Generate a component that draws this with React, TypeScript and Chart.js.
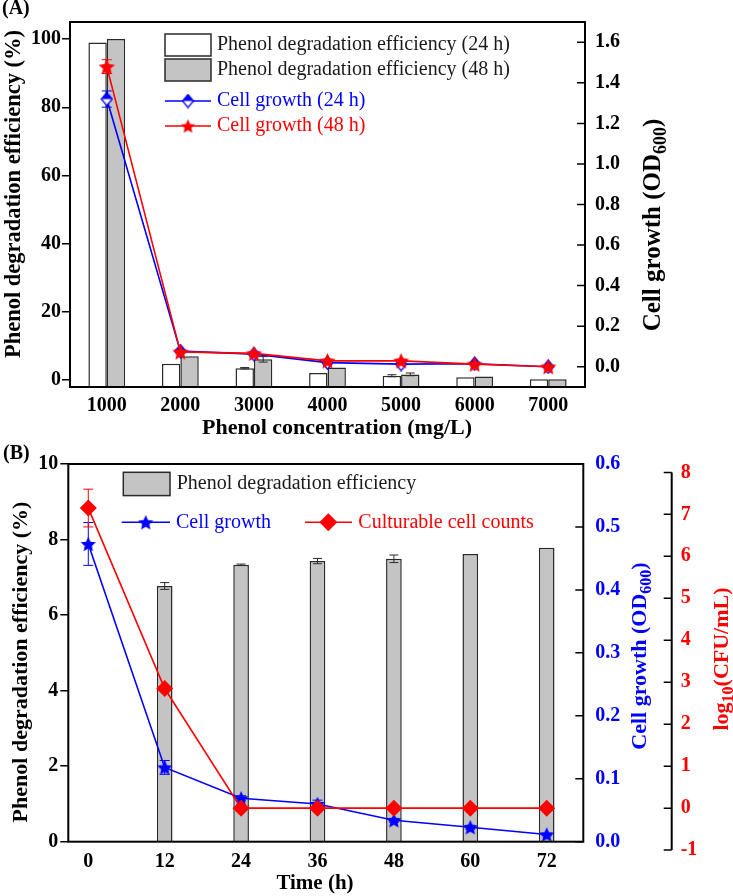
import React, { useEffect, useRef } from 'react';
import { Chart, registerables } from 'chart.js';

Chart.register(...registerables);

const FONT = "'Liberation Serif', 'Times New Roman', serif";
const BLUE = '#0000FF';
const RED = '#FF0000';
const GRAY = '#C4C4C4';
const EDGE = '#2a2a2a';

// ---------- Panel (A) data ----------
const concentrations = ['1000', '2000', '3000', '4000', '5000', '6000', '7000'];
const degradation24 = [99.0, 4.8, 3.5, 2.1, 1.3, 0.85, 0.3];
const degradation24Err = [0, 0, 0.2, 0, 0.3, 0, 0];
const degradation48 = [100.0, 7.0, 6.1, 3.7, 1.7, 1.05, 0.3];
const degradation48Err = [0, 0, 0.8, 0, 0.4, 0, 0];
const growth24 = [1.32, 0.077, 0.062, 0.02, 0.013, 0.015, 0.0];
const growth24Err = [0.04, 0.008, 0.008, 0.005, 0.005, 0.004, 0.004];
const growth48 = [1.48, 0.073, 0.066, 0.029, 0.029, 0.013, 0.0];
const growth48Err = [0.034, 0.006, 0.006, 0.004, 0.004, 0.004, 0.004];
const degradationTicksA = [0, 20, 40, 60, 80, 100];
const growthTicksA = [0, 0.2, 0.4, 0.6, 0.8, 1.0, 1.2, 1.4, 1.6];
const degradationRangeA = [-2, 105];
const growthRangeA = [-0.1, 1.7];

// ---------- Panel (B) data ----------
const timesB = [0, 12, 24, 36, 48, 60, 72];
const degradationB = [null, 6.77, 7.33, 7.43, 7.49, 7.62, 7.78];
const degradationBErr = [0, 0.09, 0.02, 0.07, 0.1, 0, 0];
const growthB = [0.473, 0.118, 0.069, 0.06, 0.034, 0.023, 0.0115];
const growthBErr = [0.034, 0.011, 0.004, 0.006, 0.003, 0.003, 0.002];
const countsB = [7.15, 2.85, 0, 0, 0, 0, 0];
const countsBErr = [0.45, 0, 0, 0, 0, 0, 0];
const timeTicksB = [0, 12, 24, 36, 48, 60, 72];
const degradationTicksB = [0, 2, 4, 6, 8, 10];
const growthTicksB = [0, 0.1, 0.2, 0.3, 0.4, 0.5, 0.6];
const countsTicksB = [-1, 0, 1, 2, 3, 4, 5, 6, 7, 8];
const timeRangeB = [-3.14, 77.75];
const degradationRangeB = [0, 10];
const growthRangeB = [0, 0.6];
const countsRangeB = [-0.8, 8.2];

const tickFont = { family: FONT, size: 20, weight: 'bold' as const };

function makeStar(color: string, R: number) {
  const size = Math.ceil(R * 2 + 2);
  const c = document.createElement('canvas');
  c.width = size;
  c.height = size;
  const ctx = c.getContext('2d')!;
  const cx = size / 2;
  const cy = size / 2 + R * 0.1;
  const r = R * 0.47;
  ctx.beginPath();
  for (let k = 0; k < 10; k++) {
    const ang = -Math.PI / 2 + (k * Math.PI) / 5;
    const rad = k % 2 === 0 ? R : r;
    ctx.lineTo(cx + rad * Math.cos(ang), cy + rad * Math.sin(ang));
  }
  ctx.closePath();
  ctx.fillStyle = color;
  ctx.fill();
  return c;
}

function makeHalfDiamond(color: string, w: number, h: number) {
  const c = document.createElement('canvas');
  c.width = w;
  c.height = h;
  const ctx = c.getContext('2d')!;
  const path = () => {
    ctx.beginPath();
    ctx.moveTo(w / 2, 1);
    ctx.lineTo(w - 1, h / 2);
    ctx.lineTo(w / 2, h - 1);
    ctx.lineTo(1, h / 2);
    ctx.closePath();
  };
  path();
  ctx.fillStyle = '#fff';
  ctx.fill();
  ctx.save();
  ctx.beginPath();
  ctx.rect(0, 0, w, h / 2);
  ctx.clip();
  path();
  ctx.fillStyle = color;
  ctx.fill();
  ctx.restore();
  path();
  ctx.strokeStyle = color;
  ctx.lineWidth = 1.3;
  ctx.stroke();
  return c;
}

type Seg = { t: string; sub?: boolean };

function drawRich(
  ctx: CanvasRenderingContext2D,
  segs: Seg[],
  x: number,
  y: number,
  size: number,
  color: string,
  rotate: number,
  bold = true,
  align: 'center' | 'left' = 'center'
) {
  ctx.save();
  ctx.translate(x, y);
  if (rotate) ctx.rotate(rotate);
  const w = bold ? 'bold ' : '';
  const mainF = `${w}${size}px ${FONT}`;
  const subF = `${w}${Math.round(size * 0.72)}px ${FONT}`;
  const widths = segs.map((s) => {
    ctx.font = s.sub ? subF : mainF;
    return ctx.measureText(s.t).width;
  });
  const total = widths.reduce((a, b) => a + b, 0);
  let cx = align === 'center' ? -total / 2 : 0;
  ctx.textBaseline = 'middle';
  ctx.textAlign = 'left';
  ctx.fillStyle = color;
  segs.forEach((s, i) => {
    ctx.font = s.sub ? subF : mainF;
    ctx.fillText(s.t, cx, s.sub ? size * 0.3 : 0);
    cx += widths[i];
  });
  ctx.restore();
}

function drawErrors(chart: any, args: any, kind: string) {
  const meta = args.meta;
  const ds: any = chart.data.datasets[args.index];
  if (!ds.errors || meta.type !== kind) return;
  const yScale = chart.scales[meta.yAxisID];
  const ctx = chart.ctx as CanvasRenderingContext2D;
  ctx.save();
  ctx.strokeStyle = ds.errorColor;
  ctx.lineWidth = 1;
  meta.data.forEach((el: any, i: number) => {
    const e = ds.errors[i];
    const parsed = meta.controller.getParsed(i);
    if (!e || !parsed || parsed.y == null || isNaN(parsed.y)) return;
    const x = el.x;
    const y1 = yScale.getPixelForValue(parsed.y + e);
    const y2 = yScale.getPixelForValue(parsed.y - e);
    const cap = ds.errorCap / 2;
    ctx.beginPath();
    ctx.moveTo(x, y1);
    ctx.lineTo(x, y2);
    ctx.moveTo(x - cap, y1);
    ctx.lineTo(x + cap, y1);
    ctx.moveTo(x - cap, y2);
    ctx.lineTo(x + cap, y2);
    ctx.stroke();
  });
  ctx.restore();
}

const errorBarPlugin = {
  id: 'errorBars',
  beforeDatasetDraw(chart: any, args: any) {
    drawErrors(chart, args, 'line');
  },
  afterDatasetDraw(chart: any, args: any) {
    drawErrors(chart, args, 'bar');
  },
};

function inwardTicks(ctx: CanvasRenderingContext2D, scale: any, x: number, len: number) {
  ctx.beginPath();
  scale.ticks.forEach((t: any) => {
    const y = scale.getPixelForValue(t.value);
    ctx.moveTo(x - len, y);
    ctx.lineTo(x, y);
  });
  ctx.stroke();
}

function setTicks(values: number[]) {
  return (scale: any) => {
    scale.ticks = values.map((v) => ({ value: v }));
  };
}

export default function App() {
  const refA = useRef<HTMLCanvasElement>(null);
  const refB = useRef<HTMLCanvasElement>(null);

  useEffect(() => {
    const starA = makeStar(RED, 8.5);
    const starALegend = makeStar(RED, 7.5);
    const diamondA = makeHalfDiamond(BLUE, 13, 15);
    const starB = makeStar(BLUE, 8);

    const decorA = {
      id: 'decorA',
      afterDraw(chart: any) {
        const ctx = chart.ctx as CanvasRenderingContext2D;
        const { left: L, top: T, right: R, bottom: B } = chart.chartArea;
        ctx.save();
        // frame
        ctx.strokeStyle = '#000';
        ctx.lineWidth = 2;
        ctx.strokeRect(L, T, R - L, B - T);
        // inward ticks of right axis
        ctx.lineWidth = 1.5;
        inwardTicks(ctx, chart.scales.y2, R, 8);
        // legend
        ctx.lineWidth = 1.5;
        ctx.strokeStyle = EDGE;
        ctx.fillStyle = '#fff';
        ctx.fillRect(L + 95, T + 12, 46, 22);
        ctx.strokeRect(L + 95, T + 12, 46, 22);
        ctx.fillStyle = GRAY;
        ctx.fillRect(L + 95, T + 37, 46, 22);
        ctx.strokeRect(L + 95, T + 37, 46, 22);
        drawRich(ctx, [{ t: 'Phenol degradation efficiency (24 h)' }], L + 147, T + 23, 20, '#1a1a1a', 0, false, 'left');
        drawRich(ctx, [{ t: 'Phenol degradation efficiency (48 h)' }], L + 147, T + 48, 20, '#1a1a1a', 0, false, 'left');
        ctx.strokeStyle = BLUE;
        ctx.beginPath();
        ctx.moveTo(L + 95, T + 79);
        ctx.lineTo(L + 141, T + 79);
        ctx.stroke();
        ctx.drawImage(diamondA, L + 118 - diamondA.width / 2, T + 79 - diamondA.height / 2);
        drawRich(ctx, [{ t: 'Cell growth (24 h)' }], L + 147, T + 79, 20, BLUE, 0, false, 'left');
        ctx.strokeStyle = RED;
        ctx.beginPath();
        ctx.moveTo(L + 95, T + 104);
        ctx.lineTo(L + 141, T + 104);
        ctx.stroke();
        ctx.drawImage(starALegend, L + 118 - starALegend.width / 2, T + 104 - starALegend.height / 2);
        drawRich(ctx, [{ t: 'Cell growth (48 h)' }], L + 147, T + 104, 20, RED, 0, false, 'left');
        // titles
        drawRich(ctx, [{ t: '(A)' }], 2, 9, 20, '#000', 0, true, 'left');
        drawRich(ctx, [{ t: 'Phenol degradation efficiency (%)' }], 14, 194, 22.5, '#000', -Math.PI / 2);
        drawRich(ctx, [{ t: 'Cell growth (OD' }, { t: '600', sub: true }, { t: ')' }], 654, 225, 25, '#000', -Math.PI / 2);
        drawRich(ctx, [{ t: 'Phenol concentration (mg/L)' }], 337, 428, 22, '#000', 0);
        ctx.restore();
      },
    };

    const decorB = {
      id: 'decorB',
      afterDraw(chart: any) {
        const ctx = chart.ctx as CanvasRenderingContext2D;
        const { left: L, top: T, right: R, bottom: B } = chart.chartArea;
        ctx.save();
        ctx.strokeStyle = '#000';
        ctx.lineWidth = 2;
        ctx.strokeRect(L, T, R - L, B - T);
        ctx.lineWidth = 1.5;
        inwardTicks(ctx, chart.scales.yBlue, R, 8);
        // red axis line + ticks
        const red = chart.scales.yRed;
        const rx = red.left;
        ctx.lineWidth = 2;
        ctx.beginPath();
        ctx.moveTo(rx, red.getPixelForValue(countsTicksB[0]));
        ctx.lineTo(rx, red.getPixelForValue(countsTicksB[countsTicksB.length - 1]));
        ctx.stroke();
        ctx.lineWidth = 1.5;
        inwardTicks(ctx, red, rx, 8);
        // legend
        ctx.strokeStyle = EDGE;
        ctx.fillStyle = GRAY;
        ctx.fillRect(L + 55, T + 8.3, 46.7, 23.3);
        ctx.strokeRect(L + 55, T + 8.3, 46.7, 23.3);
        drawRich(ctx, [{ t: 'Phenol degradation efficiency' }], L + 108.4, T + 20, 20, '#1a1a1a', 0, false, 'left');
        ctx.strokeStyle = BLUE;
        ctx.beginPath();
        ctx.moveTo(L + 53.4, T + 58.3);
        ctx.lineTo(L + 101.7, T + 58.3);
        ctx.stroke();
        ctx.drawImage(starB, L + 77.4 - starB.width / 2, T + 58.3 - starB.height / 2);
        drawRich(ctx, [{ t: 'Cell growth' }], L + 107.7, T + 58.3, 20, BLUE, 0, false, 'left');
        ctx.strokeStyle = RED;
        ctx.beginPath();
        ctx.moveTo(L + 236.7, T + 58.3);
        ctx.lineTo(L + 283.7, T + 58.3);
        ctx.stroke();
        ctx.fillStyle = RED;
        ctx.beginPath();
        const dx = L + 260, dy = T + 58.3;
        ctx.moveTo(dx - 9, dy);
        ctx.lineTo(dx, dy - 9);
        ctx.lineTo(dx + 9, dy);
        ctx.lineTo(dx, dy + 9);
        ctx.closePath();
        ctx.fill();
        drawRich(ctx, [{ t: 'Culturable cell counts' }], L + 290, T + 58.3, 20, RED, 0, false, 'left');
        // titles
        drawRich(ctx, [{ t: '(B)' }], 3, 13.5, 20, '#000', 0, true, 'left');
        drawRich(ctx, [{ t: 'Phenol degradation efficiency (%)' }], 21, 222, 22, '#000', -Math.PI / 2);
        drawRich(ctx, [{ t: 'Cell growth (OD' }, { t: '600', sub: true }, { t: ')' }], 640, 216, 22, BLUE, -Math.PI / 2);
        drawRich(ctx, [{ t: 'log' }, { t: '10', sub: true }, { t: '(CFU/mL)' }], 722, 219, 22, RED, -Math.PI / 2);
        drawRich(ctx, [{ t: 'Time (h)' }], 315, 444, 21, '#000', 0);
        ctx.restore();
      },
    };

    const chartA = new Chart(refA.current!, {
      type: 'bar',
      data: {
        labels: concentrations,
        datasets: [
          {
            type: 'line',
            label: 'Cell growth (48 h)',
            data: growth48,
            yAxisID: 'y2',
            borderColor: RED,
            backgroundColor: RED,
            borderWidth: 1.6,
            pointStyle: starA as any,
            pointRadius: 8,
            tension: 0,
            order: 0,
            errors: growth48Err,
            errorColor: RED,
            errorCap: 10,
          } as any,
          {
            type: 'line',
            label: 'Cell growth (24 h)',
            data: growth24,
            yAxisID: 'y2',
            borderColor: BLUE,
            backgroundColor: BLUE,
            borderWidth: 1.6,
            pointStyle: diamondA as any,
            pointRadius: 7,
            tension: 0,
            order: 1,
            errors: growth24Err,
            errorColor: BLUE,
            errorCap: 10,
          } as any,
          {
            type: 'bar',
            label: 'Phenol degradation efficiency (24 h)',
            data: degradation24,
            yAxisID: 'y',
            backgroundColor: '#FFFFFF',
            borderColor: EDGE,
            borderWidth: 1.5,
            base: degradationRangeA[0],
            categoryPercentage: 0.5,
            barPercentage: 1.0,
            order: 2,
            errors: degradation24Err,
            errorColor: EDGE,
            errorCap: 9,
          } as any,
          {
            type: 'bar',
            label: 'Phenol degradation efficiency (48 h)',
            data: degradation48,
            yAxisID: 'y',
            backgroundColor: GRAY,
            borderColor: EDGE,
            borderWidth: 1.5,
            base: degradationRangeA[0],
            categoryPercentage: 0.5,
            barPercentage: 1.0,
            order: 2,
            errors: degradation48Err,
            errorColor: EDGE,
            errorCap: 9,
          } as any,
        ],
      },
      options: {
        responsive: false,
        animation: false,
        devicePixelRatio: 1,
        events: [],
        layout: { padding: { left: 0, right: 0, top: 12, bottom: 0 } },
        plugins: { legend: { display: false }, tooltip: { enabled: false } },
        scales: {
          x: {
            type: 'category',
            offset: true,
            grid: { display: false, drawTicks: false },
            border: { display: false },
            ticks: { font: tickFont, color: '#000', padding: 7, maxRotation: 0, autoSkip: false },
            afterFit: (s: any) => {
              s.height = 53;
            },
          },
          y: {
            position: 'left',
            min: degradationRangeA[0],
            max: degradationRangeA[1],
            afterBuildTicks: setTicks(degradationTicksA),
            grid: { display: true, drawOnChartArea: false, drawTicks: true, tickLength: 8, color: '#000', lineWidth: 1.5 },
            border: { display: false },
            ticks: { font: tickFont, color: '#000', padding: 1 },
            afterFit: (s: any) => {
              s.width = 70;
            },
          },
          y2: {
            position: 'right',
            min: growthRangeA[0],
            max: growthRangeA[1],
            afterBuildTicks: setTicks(growthTicksA),
            grid: { display: false, drawTicks: false },
            border: { display: false },
            ticks: { font: tickFont, color: '#000', padding: 10, callback: (v: any) => Number(v).toFixed(1) },
            afterFit: (s: any) => {
              s.width = 148;
            },
          },
        },
      } as any,
      plugins: [errorBarPlugin, decorA],
    });

    const chartB = new Chart(refB.current!, {
      type: 'bar',
      data: {
        datasets: [
          {
            type: 'line',
            label: 'Culturable cell counts',
            data: timesB.map((t, i) => ({ x: t, y: countsB[i] })),
            yAxisID: 'yRed',
            borderColor: RED,
            backgroundColor: RED,
            borderWidth: 1.6,
            pointStyle: 'rectRot',
            pointRadius: 8.5,
            pointBorderWidth: 0,
            tension: 0,
            order: 0,
            errors: countsBErr,
            errorColor: RED,
            errorCap: 10,
          } as any,
          {
            type: 'line',
            label: 'Cell growth',
            data: timesB.map((t, i) => ({ x: t, y: growthB[i] })),
            yAxisID: 'yBlue',
            borderColor: BLUE,
            backgroundColor: BLUE,
            borderWidth: 1.6,
            pointStyle: starB as any,
            pointRadius: 7,
            tension: 0,
            order: 1,
            errors: growthBErr,
            errorColor: BLUE,
            errorCap: 10,
          } as any,
          {
            type: 'bar',
            label: 'Phenol degradation efficiency',
            data: timesB.map((t, i) => ({ x: t, y: degradationB[i] })),
            yAxisID: 'y',
            backgroundColor: GRAY,
            borderColor: EDGE,
            borderWidth: 1.5,
            categoryPercentage: 1.0,
            barPercentage: 0.205,
            order: 2,
            errors: degradationBErr,
            errorColor: EDGE,
            errorCap: 9,
          } as any,
        ],
      },
      options: {
        responsive: false,
        animation: false,
        devicePixelRatio: 1,
        events: [],
        layout: { padding: { left: 0, right: 0, top: 16.7, bottom: 0 } },
        plugins: { legend: { display: false }, tooltip: { enabled: false } },
        scales: {
          x: {
            type: 'linear',
            offset: false,
            min: timeRangeB[0],
            max: timeRangeB[1],
            afterBuildTicks: setTicks(timeTicksB),
            grid: { display: false, drawTicks: false },
            border: { display: false },
            ticks: { font: tickFont, color: '#000', padding: 8, maxRotation: 0, autoSkip: false },
            afterFit: (s: any) => {
              s.height = 54.3;
            },
          },
          y: {
            position: 'left',
            min: degradationRangeB[0],
            max: degradationRangeB[1],
            afterBuildTicks: setTicks(degradationTicksB),
            grid: { display: true, drawOnChartArea: false, drawTicks: true, tickLength: 8, color: '#000', lineWidth: 1.5 },
            border: { display: false },
            ticks: { font: tickFont, color: '#000', padding: 2 },
            afterFit: (s: any) => {
              s.width = 68.3;
            },
          },
          yBlue: {
            position: 'right',
            weight: 0,
            min: growthRangeB[0],
            max: growthRangeB[1],
            afterBuildTicks: setTicks(growthTicksB),
            grid: { display: false, drawTicks: false },
            border: { display: false },
            ticks: { font: tickFont, color: BLUE, padding: 12, callback: (v: any) => Number(v).toFixed(1) },
            afterFit: (s: any) => {
              s.width = 88.4;
            },
          },
          yRed: {
            position: 'right',
            weight: 1,
            min: countsRangeB[0],
            max: countsRangeB[1],
            afterBuildTicks: setTicks(countsTicksB),
            grid: { display: false, drawTicks: false },
            border: { display: false },
            ticks: { font: tickFont, color: RED, padding: 9 },
            afterFit: (s: any) => {
              s.width = 61.3;
            },
          },
        },
      } as any,
      plugins: [errorBarPlugin, decorB],
    });

    return () => {
      chartA.destroy();
      chartB.destroy();
    };
  }, []);

  return (
    <div style={{ position: 'absolute', left: 0, top: 0, width: 733, height: 896, background: '#fff' }}>
      <canvas
        ref={refA}
        width={733}
        height={440}
        style={{ position: 'absolute', left: 0, top: 0, width: 733, height: 440 }}
      />
      <canvas
        ref={refB}
        width={733}
        height={456}
        style={{ position: 'absolute', left: 0, top: 440, width: 733, height: 456 }}
      />
    </div>
  );
}
